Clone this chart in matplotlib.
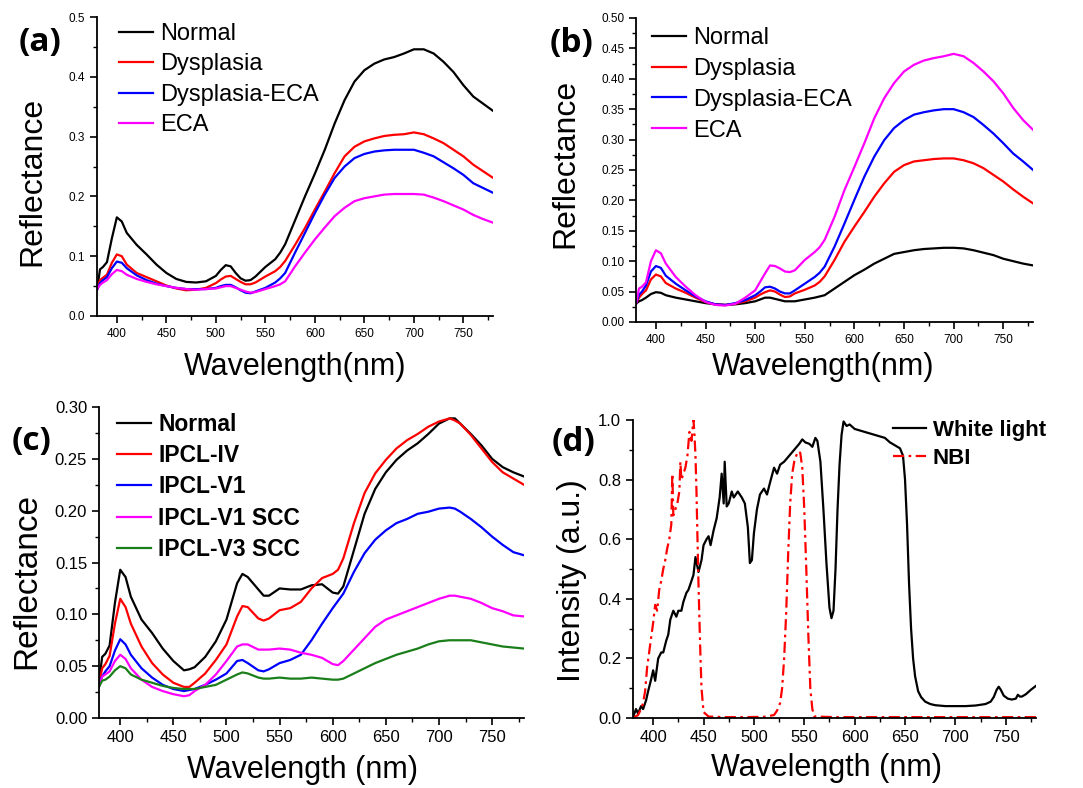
import numpy as np
import matplotlib
matplotlib.use("Agg")
from matplotlib import pyplot as plt
from matplotlib.ticker import MultipleLocator, FormatStrFormatter

plt.rcParams['font.family'] = ['Liberation Sans', 'DejaVu Sans']

# ---- panel (a) ----
wl_ab = [380, 383, 386, 390, 395, 400, 405, 410, 420, 430, 440, 450, 460, 470, 480, 490,
         500, 505, 510, 515, 520, 525, 530, 535, 540, 550, 560, 565, 570, 580, 590, 600,
         610, 620, 630, 640, 650, 660, 670, 680, 690, 700, 710, 720, 730, 740, 750, 760, 770, 780]

a_normal = [0.044, 0.078, 0.082, 0.090, 0.130, 0.165, 0.158, 0.139, 0.119, 0.103, 0.086, 0.072, 0.062, 0.057, 0.056, 0.058,
            0.067, 0.077, 0.085, 0.083, 0.072, 0.063, 0.059, 0.060, 0.066, 0.082, 0.095, 0.106, 0.120, 0.160, 0.200, 0.238,
            0.278, 0.322, 0.361, 0.392, 0.411, 0.422, 0.429, 0.433, 0.439, 0.446, 0.446, 0.439, 0.425, 0.408, 0.386, 0.367, 0.355, 0.343]
a_dysp = [0.044, 0.060, 0.064, 0.069, 0.089, 0.103, 0.100, 0.086, 0.072, 0.065, 0.058, 0.051, 0.046, 0.043, 0.044, 0.047,
          0.055, 0.061, 0.066, 0.067, 0.062, 0.057, 0.053, 0.053, 0.056, 0.066, 0.075, 0.082, 0.092, 0.119, 0.147, 0.178,
          0.208, 0.239, 0.267, 0.283, 0.292, 0.297, 0.301, 0.303, 0.304, 0.307, 0.304, 0.297, 0.289, 0.278, 0.267, 0.253, 0.242, 0.231]
a_dysp_eca = [0.044, 0.055, 0.060, 0.065, 0.080, 0.091, 0.089, 0.080, 0.068, 0.060, 0.054, 0.050, 0.047, 0.045, 0.045, 0.045,
              0.047, 0.050, 0.052, 0.052, 0.048, 0.043, 0.039, 0.038, 0.041, 0.047, 0.056, 0.063, 0.072, 0.106, 0.139, 0.172,
              0.203, 0.231, 0.250, 0.264, 0.271, 0.275, 0.277, 0.278, 0.278, 0.278, 0.273, 0.267, 0.257, 0.247, 0.236, 0.222, 0.214, 0.206]
a_eca = [0.045, 0.052, 0.056, 0.060, 0.070, 0.077, 0.075, 0.069, 0.062, 0.057, 0.053, 0.050, 0.047, 0.045, 0.044, 0.045,
         0.046, 0.048, 0.050, 0.050, 0.047, 0.044, 0.041, 0.039, 0.040, 0.045, 0.050, 0.053, 0.058, 0.083, 0.106, 0.128,
         0.148, 0.167, 0.181, 0.192, 0.197, 0.200, 0.203, 0.204, 0.204, 0.204, 0.203, 0.198, 0.192, 0.185, 0.178, 0.169, 0.162, 0.156]

# ---- panel (b) ----
b_normal = [0.030, 0.034, 0.036, 0.040, 0.046, 0.049, 0.048, 0.044, 0.040, 0.037, 0.034, 0.031, 0.029, 0.028, 0.029, 0.031,
            0.034, 0.037, 0.040, 0.040, 0.038, 0.036, 0.034, 0.034, 0.034, 0.037, 0.040, 0.042, 0.044, 0.055, 0.066, 0.077,
            0.086, 0.096, 0.104, 0.112, 0.115, 0.118, 0.120, 0.121, 0.122, 0.122, 0.121, 0.118, 0.114, 0.110, 0.104, 0.100, 0.096, 0.093]
b_dysp = [0.030, 0.040, 0.046, 0.052, 0.070, 0.078, 0.075, 0.064, 0.055, 0.048, 0.040, 0.033, 0.029, 0.028, 0.030, 0.034,
          0.040, 0.045, 0.049, 0.052, 0.050, 0.045, 0.041, 0.042, 0.047, 0.053, 0.060, 0.066, 0.075, 0.102, 0.132, 0.157,
          0.181, 0.206, 0.228, 0.247, 0.258, 0.264, 0.266, 0.268, 0.269, 0.269, 0.266, 0.261, 0.253, 0.242, 0.231, 0.218, 0.206, 0.195]
b_dysp_eca = [0.030, 0.045, 0.050, 0.060, 0.083, 0.092, 0.089, 0.076, 0.063, 0.052, 0.042, 0.034, 0.029, 0.028, 0.031, 0.036,
              0.044, 0.050, 0.057, 0.058, 0.055, 0.050, 0.047, 0.047, 0.052, 0.063, 0.074, 0.081, 0.091, 0.124, 0.162, 0.201,
              0.239, 0.272, 0.299, 0.319, 0.332, 0.341, 0.345, 0.348, 0.350, 0.350, 0.345, 0.337, 0.324, 0.310, 0.294, 0.277, 0.264, 0.250]
b_eca = [0.030, 0.055, 0.058, 0.065, 0.100, 0.118, 0.113, 0.096, 0.074, 0.058, 0.044, 0.033, 0.028, 0.027, 0.030, 0.040,
         0.052, 0.066, 0.080, 0.093, 0.092, 0.088, 0.083, 0.082, 0.085, 0.102, 0.115, 0.123, 0.135, 0.173, 0.217, 0.255,
         0.294, 0.335, 0.368, 0.393, 0.412, 0.423, 0.430, 0.434, 0.437, 0.441, 0.437, 0.426, 0.412, 0.396, 0.376, 0.352, 0.332, 0.316]

# ---- panel (c) ----
wl_c = [380, 383, 386, 390, 395, 400, 405, 410, 420, 430, 440, 450, 460, 465, 470, 480, 490, 500, 510, 515,
        520, 530, 535, 540, 550, 560, 570, 580, 590, 600, 605, 610, 620, 630, 640, 650, 660, 670, 680, 690,
        700, 710, 715, 720, 730, 740, 750, 760, 770, 780]
c_normal = [0.035, 0.059, 0.062, 0.070, 0.111, 0.143, 0.136, 0.117, 0.095, 0.082, 0.067, 0.055, 0.046, 0.047, 0.049, 0.059, 0.074, 0.095, 0.130, 0.139,
            0.136, 0.124, 0.118, 0.118, 0.125, 0.124, 0.124, 0.128, 0.129, 0.121, 0.120, 0.127, 0.162, 0.197, 0.221, 0.237, 0.249, 0.258, 0.265, 0.274,
            0.284, 0.289, 0.289, 0.284, 0.274, 0.263, 0.250, 0.242, 0.237, 0.233]
c_ipcl_iv = [0.033, 0.048, 0.052, 0.060, 0.091, 0.115, 0.107, 0.091, 0.069, 0.053, 0.042, 0.034, 0.030, 0.030, 0.034, 0.043, 0.056, 0.071, 0.098, 0.108,
             0.107, 0.096, 0.094, 0.096, 0.104, 0.106, 0.112, 0.125, 0.135, 0.139, 0.143, 0.154, 0.188, 0.217, 0.236, 0.249, 0.260, 0.268, 0.274, 0.281,
             0.286, 0.289, 0.287, 0.284, 0.273, 0.260, 0.247, 0.237, 0.231, 0.225]
c_ipcl_v1 = [0.035, 0.040, 0.045, 0.050, 0.065, 0.076, 0.071, 0.061, 0.048, 0.039, 0.032, 0.028, 0.026, 0.027, 0.028, 0.032, 0.037, 0.043, 0.055, 0.056,
             0.053, 0.046, 0.045, 0.047, 0.053, 0.056, 0.061, 0.075, 0.091, 0.106, 0.113, 0.120, 0.141, 0.159, 0.172, 0.181, 0.188, 0.192, 0.197, 0.199,
             0.202, 0.203, 0.202, 0.199, 0.192, 0.184, 0.175, 0.167, 0.160, 0.157]
c_v1_scc = [0.030, 0.040, 0.042, 0.045, 0.055, 0.061, 0.057, 0.048, 0.037, 0.030, 0.026, 0.023, 0.021, 0.022, 0.026, 0.032, 0.042, 0.055, 0.069, 0.071,
            0.071, 0.066, 0.066, 0.066, 0.067, 0.066, 0.063, 0.061, 0.058, 0.052, 0.051, 0.055, 0.066, 0.077, 0.088, 0.095, 0.099, 0.103, 0.107, 0.111,
            0.115, 0.118, 0.118, 0.117, 0.115, 0.111, 0.106, 0.103, 0.099, 0.098]
c_v3_scc = [0.030, 0.036, 0.037, 0.040, 0.046, 0.050, 0.048, 0.042, 0.037, 0.034, 0.031, 0.029, 0.028, 0.028, 0.028, 0.030, 0.032, 0.037, 0.042, 0.044,
            0.043, 0.039, 0.038, 0.038, 0.039, 0.038, 0.038, 0.039, 0.038, 0.037, 0.037, 0.038, 0.043, 0.048, 0.053, 0.057, 0.061, 0.064, 0.067, 0.071,
            0.074, 0.075, 0.075, 0.075, 0.075, 0.073, 0.071, 0.069, 0.068, 0.067]

# ---- panel (d) ----
wl_white = [380, 383, 385, 388, 390, 393, 395, 398, 400, 402, 405, 408, 410, 413, 415, 417, 420, 423, 425, 428,
            430, 433, 435, 438, 440, 442, 445, 448, 450, 453, 455, 457, 460, 463, 466, 468, 470, 471, 473, 475,
            478, 480, 484, 488, 491, 494, 496, 498, 500, 503, 506, 510, 513, 516, 520, 523, 526, 530, 535, 540,
            545, 548, 551, 555, 558, 561, 563, 566, 569, 572, 575, 577, 579, 581, 583, 585, 587, 589, 592, 595,
            600, 605, 610, 615, 620, 625, 630, 635, 640, 645, 648, 650, 652, 654, 656, 658, 660, 663, 666, 670,
            675, 680, 690, 700, 710, 720, 730, 735, 738, 741, 743, 745, 748, 752, 756, 760, 762, 764, 766, 770, 775, 780]
white = [0.003, 0.030, 0.015, 0.040, 0.030, 0.060, 0.090, 0.130, 0.160, 0.125, 0.200, 0.220, 0.220, 0.260, 0.280, 0.330, 0.360, 0.340, 0.360, 0.360,
         0.390, 0.420, 0.430, 0.460, 0.480, 0.540, 0.490, 0.530, 0.580, 0.600, 0.610, 0.580, 0.630, 0.670, 0.740, 0.820, 0.720, 0.860, 0.710, 0.720,
         0.760, 0.740, 0.760, 0.740, 0.720, 0.640, 0.520, 0.530, 0.620, 0.700, 0.750, 0.770, 0.750, 0.790, 0.840, 0.820, 0.850, 0.860, 0.880, 0.900,
         0.920, 0.935, 0.925, 0.920, 0.910, 0.940, 0.930, 0.860, 0.700, 0.520, 0.370, 0.335, 0.360, 0.500, 0.700, 0.850, 0.950, 0.995, 0.980, 0.985,
         0.970, 0.965, 0.960, 0.955, 0.950, 0.945, 0.940, 0.925, 0.915, 0.905, 0.880, 0.800, 0.650, 0.450, 0.300, 0.200, 0.140, 0.090, 0.070, 0.055,
         0.047, 0.043, 0.040, 0.040, 0.040, 0.042, 0.047, 0.055, 0.070, 0.095, 0.105, 0.095, 0.075, 0.065, 0.062, 0.065, 0.078, 0.072, 0.072, 0.080, 0.095, 0.108]

wl_nbi = [380, 385, 388, 390, 392, 394, 396, 398, 400, 402, 404, 406, 408, 410, 412, 414, 416, 418, 419, 420,
          422, 424, 426, 427, 428, 430, 432, 434, 436, 438, 440, 441, 442, 443, 444, 445, 446, 447, 448, 450,
          455, 470, 490, 510, 520, 523, 526, 528, 530, 532, 534, 536, 538, 540, 542, 544, 546, 548, 550, 552,
          554, 556, 558, 560, 580, 620, 700, 780]
nbi = [0.000, 0.010, 0.030, 0.050, 0.090, 0.170, 0.220, 0.270, 0.320, 0.380, 0.360, 0.430, 0.460, 0.500, 0.530, 0.570, 0.600, 0.650, 0.820, 0.680,
       0.700, 0.720, 0.760, 0.860, 0.800, 0.820, 0.840, 0.880, 0.960, 0.930, 1.000, 0.950, 0.880, 0.760, 0.600, 0.450, 0.320, 0.200, 0.100, 0.020,
       0.005, 0.003, 0.003, 0.004, 0.010, 0.025, 0.050, 0.100, 0.200, 0.350, 0.550, 0.720, 0.820, 0.860, 0.880, 0.895, 0.890, 0.840, 0.700, 0.500,
       0.280, 0.100, 0.030, 0.005, 0.003, 0.003, 0.003, 0.003]

RED = '#ff0000'
BLUE = '#0000ff'
MAG = '#ff00ff'
GREEN = '#1a7f1a'


def style_axes(ax, ymax, ymajor, yfmt, tick_fs):
    ax.set_xlim(380, 780)
    ax.set_ylim(0, ymax)
    ax.spines['top'].set_visible(False)
    ax.spines['right'].set_visible(False)
    for s in ('left', 'bottom'):
        ax.spines[s].set_linewidth(1.3)
    ax.xaxis.set_major_locator(MultipleLocator(50))
    ax.xaxis.set_minor_locator(MultipleLocator(25))
    ax.yaxis.set_major_locator(MultipleLocator(ymajor))
    ax.yaxis.set_minor_locator(MultipleLocator(ymajor / 2))
    ax.yaxis.set_major_formatter(FormatStrFormatter(yfmt))
    ax.tick_params(which='major', direction='out', length=5, width=1.2, labelsize=tick_fs)
    ax.tick_params(which='minor', direction='out', length=3, width=1.0)


fig = plt.figure(figsize=(10.83, 7.88), dpi=100)

# (a)
ax = fig.add_axes([0.0896, 0.599, 0.3657, 0.3794])
ax.plot(wl_ab, a_normal, color='black', lw=1.6, label='Normal')
ax.plot(wl_ab, a_dysp, color=RED, lw=1.6, label='Dysplasia')
ax.plot(wl_ab, a_dysp_eca, color=BLUE, lw=1.6, label='Dysplasia-ECA')
ax.plot(wl_ab, a_eca, color=MAG, lw=1.6, label='ECA')
style_axes(ax, 0.5, 0.1, '%.1f', 8.5)
ax.set_xticks([400, 450, 500, 550, 600, 650, 700, 750])
ax.set_ylabel('Reflectance', fontsize=23)
ax.set_xlabel('Wavelength(nm)', fontsize=22)
ax.yaxis.set_label_coords(-0.125, 0.45)
ax.xaxis.set_label_coords(0.5, -0.12)
ax.legend(loc='upper left', bbox_to_anchor=(0.110, 0.971), bbox_transform=fig.transFigure,
          frameon=False, fontsize=17, borderpad=0, borderaxespad=0, handlelength=1.45,
          handletextpad=0.3, labelspacing=0.36)
fig.text(0.037, 0.946, '(a)', fontsize=24, fontweight='bold', family='Open Sans', ha='center', va='center')

# (b)
ax = fig.add_axes([0.5873, 0.5914, 0.3666, 0.3858])
ax.plot(wl_ab, b_normal, color='black', lw=1.6, label='Normal')
ax.plot(wl_ab, b_dysp, color=RED, lw=1.6, label='Dysplasia')
ax.plot(wl_ab, b_dysp_eca, color=BLUE, lw=1.6, label='Dysplasia-ECA')
ax.plot(wl_ab, b_eca, color=MAG, lw=1.6, label='ECA')
style_axes(ax, 0.5, 0.05, '%.2f', 8.5)
ax.set_xticks([400, 450, 500, 550, 600, 650, 700, 750])
ax.set_ylabel('Reflectance', fontsize=23)
ax.set_xlabel('Wavelength(nm)', fontsize=22)
ax.yaxis.set_label_coords(-0.14, 0.52)
ax.xaxis.set_label_coords(0.47, -0.10)
ax.legend(loc='upper left', bbox_to_anchor=(0.602, 0.966), bbox_transform=fig.transFigure,
          frameon=False, fontsize=17, borderpad=0, borderaxespad=0, handlelength=1.45,
          handletextpad=0.3, labelspacing=0.38)
fig.text(0.528, 0.945, '(b)', fontsize=24, fontweight='bold', family='Open Sans', ha='center', va='center')

# (c)
ax = fig.add_axes([0.0914, 0.0888, 0.3924, 0.3947])
ax.plot(wl_c, c_normal, color='black', lw=1.6, label='Normal')
ax.plot(wl_c, c_ipcl_iv, color=RED, lw=1.6, label='IPCL-IV')
ax.plot(wl_c, c_ipcl_v1, color=BLUE, lw=1.6, label='IPCL-V1')
ax.plot(wl_c, c_v1_scc, color=MAG, lw=1.6, label='IPCL-V1 SCC')
ax.plot(wl_c, c_v3_scc, color=GREEN, lw=1.6, label='IPCL-V3 SCC')
style_axes(ax, 0.30, 0.05, '%.2f', 12)
ax.set_xticks([400, 450, 500, 550, 600, 650, 700, 750])
ax.set_ylabel('Reflectance', fontsize=24)
ax.set_xlabel('Wavelength (nm)', fontsize=22)
ax.yaxis.set_label_coords(-0.134, 0.44)
ax.xaxis.set_label_coords(0.478, -0.12)
ax.legend(loc='upper left', bbox_to_anchor=(0.108, 0.476), bbox_transform=fig.transFigure,
          frameon=False, prop={'size': 16.5, 'weight': 'bold'}, borderpad=0, borderaxespad=0,
          handlelength=1.5, handletextpad=0.3, labelspacing=0.36)
fig.text(0.029, 0.440, '(c)', fontsize=24, fontweight='bold', family='Open Sans', ha='center', va='center')

# (d)
ax = fig.add_axes([0.5845, 0.0888, 0.3721, 0.3782])
ax.plot(wl_white, white, color='black', lw=1.6, label='White light')
ax.plot(wl_nbi, nbi, color=RED, lw=1.6, linestyle=(0, (5, 2, 1.2, 2)), label='NBI')
style_axes(ax, 1.0, 0.2, '%.1f', 12)
ax.set_xticks([400, 450, 500, 550, 600, 650, 700, 750])
ax.set_ylabel('Intensity (a.u.)', fontsize=23)
ax.set_xlabel('Wavelength (nm)', fontsize=22)
ax.yaxis.set_label_coords(-0.114, 0.46)
ax.xaxis.set_label_coords(0.48, -0.117)
ax.legend(loc='upper left', bbox_to_anchor=(0.8245, 0.467), bbox_transform=fig.transFigure,
          frameon=False, prop={'size': 16, 'weight': 'bold'}, borderpad=0, borderaxespad=0,
          handlelength=1.5, handletextpad=0.3, labelspacing=0.32)
fig.text(0.530, 0.439, '(d)', fontsize=24, fontweight='bold', family='Open Sans', ha='center', va='center')

fig.savefig('out.png', dpi=100)
